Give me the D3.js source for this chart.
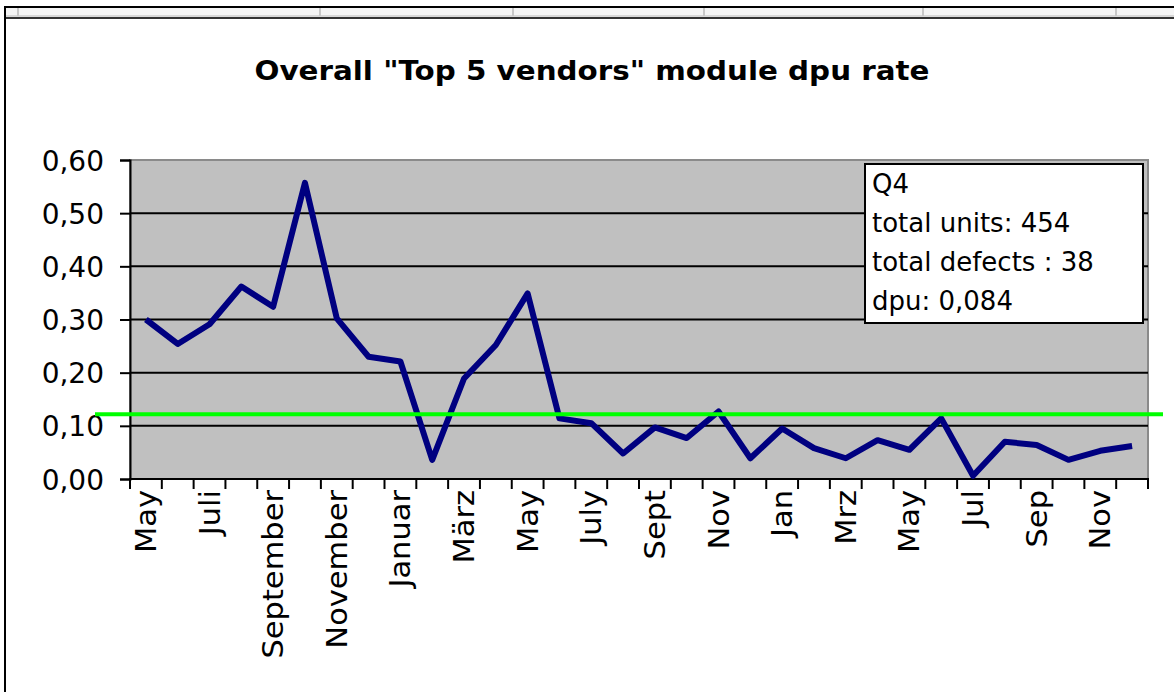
<!DOCTYPE html>
<html>
<head>
<meta charset="utf-8">
<script src="https://cdn.jsdelivr.net/npm/d3@7"></script>
<style>
  html, body { margin: 0; padding: 0; background: #fff; }
  svg { display: block; }
  text { font-family: "DejaVu Sans", Verdana, sans-serif; fill: #000; }
</style>
</head>
<body>
<svg id="chart" width="1174" height="692"></svg>
<script>
// ---- data ----
const categories = [
  "May", "Juni", "Juli", "August", "September", "Oktober", "November", "Dezember",
  "Januar", "Februar", "März", "April", "May", "June", "July", "Aug",
  "Sept", "Oct", "Nov", "Dec", "Jan", "Feb", "Mrz", "Apr",
  "May", "Jun", "Jul", "Aug", "Sep", "Oct", "Nov", "Dec"
];
const dpuValues = [
  0.300, 0.254, 0.291, 0.362, 0.324, 0.557, 0.302, 0.230,
  0.221, 0.036, 0.189, 0.252, 0.349, 0.114, 0.105, 0.048,
  0.097, 0.077, 0.127, 0.039, 0.095, 0.058, 0.039, 0.073,
  0.055, 0.114, 0.006, 0.070, 0.064, 0.036, 0.053, 0.062
];
const yTickValues = [0, 0.1, 0.2, 0.3, 0.4, 0.5, 0.6];
const targetValue = 0.122;
const titleText = 'Overall "Top 5 vendors" module dpu rate';
const noteLines = ["Q4", "total units: 454", "total defects : 38", "dpu: 0,084"];
const sheetColumnEdges = [18, 320, 513, 704, 923, 1116];

// ---- layout ----
const svg = d3.select("#chart");
const plot = { left: 130, right: 1148, top: 160, bottom: 479 };

const locale = d3.formatLocale({ decimal: ",", thousands: ".", grouping: [3], currency: ["", "€"] });
const fmt = locale.format(".2f");

const idx = d3.range(categories.length);
const x = d3.scaleBand().domain(idx).range([plot.left, plot.right]).paddingInner(0).paddingOuter(0);
const y = d3.scaleLinear().domain([0, 0.6]).range([plot.bottom, plot.top]);
const cx = i => x(i) + x.bandwidth() / 2;

// spreadsheet header strip
svg.append("rect").attr("x", 0).attr("y", 0).attr("width", 1174).attr("height", 692).attr("fill", "#fff");
svg.append("rect").attr("x", 5).attr("y", 8).attr("width", 1169).attr("height", 10).attr("fill", "#f4f4f4");
svg.append("line").attr("x1", 5).attr("x2", 1174).attr("y1", 7).attr("y2", 7).attr("stroke", "#000").attr("stroke-width", 2);
svg.append("line").attr("x1", 5).attr("x2", 1174).attr("y1", 18).attr("y2", 18).attr("stroke", "#333").attr("stroke-width", 2);
svg.append("line").attr("x1", 5).attr("x2", 1174).attr("y1", 16).attr("y2", 16).attr("stroke", "#bbb").attr("stroke-width", 1);
svg.selectAll("line.sep").data(sheetColumnEdges).join("line").attr("class", "sep")
  .attr("x1", d => d).attr("x2", d => d).attr("y1", 8).attr("y2", 16)
  .attr("stroke", "#c8c8c8").attr("stroke-width", 2);
svg.append("line").attr("x1", 5).attr("x2", 5).attr("y1", 6).attr("y2", 692).attr("stroke", "#000").attr("stroke-width", 2);

// title
svg.append("text").attr("x", 592).attr("y", 80).attr("text-anchor", "middle")
  .style("font-weight", "bold").style("font-size", "26px")
  .attr("textLength", 675).attr("lengthAdjust", "spacingAndGlyphs")
  .text(titleText);

// plot background
svg.append("rect").attr("x", plot.left).attr("y", plot.top)
  .attr("width", plot.right - plot.left).attr("height", plot.bottom - plot.top)
  .attr("fill", "#c0c0c0").attr("stroke", "#8a8a8a").attr("stroke-width", 2);

// gridlines
svg.append("g").selectAll("line").data(yTickValues.filter(v => v > 0 && v < 0.6)).join("line")
  .attr("x1", plot.left).attr("x2", plot.right)
  .attr("y1", d => y(d)).attr("y2", d => y(d))
  .attr("stroke", "#000").attr("stroke-width", 2);

// y axis
const yAxis = d3.axisLeft(y).tickValues(yTickValues).tickFormat(fmt).tickSize(10).tickPadding(16);
const gy = svg.append("g").attr("transform", `translate(${plot.left},0)`).call(yAxis);
gy.select(".domain").attr("stroke", "#000").attr("stroke-width", 2);
gy.selectAll(".tick line").attr("stroke", "#000").attr("stroke-width", 2);
gy.selectAll(".tick text").style("font-size", "28px").style("font-family", '"DejaVu Sans", sans-serif').attr("dy", "0.36em");

// x axis: ticks between categories
const boundaries = idx.map(i => x(i)).concat([plot.right]);
svg.append("line").attr("x1", plot.left - 1).attr("x2", plot.right + 1)
  .attr("y1", plot.bottom).attr("y2", plot.bottom).attr("stroke", "#000").attr("stroke-width", 2);
svg.append("g").selectAll("line").data(boundaries).join("line")
  .attr("x1", d => d).attr("x2", d => d).attr("y1", plot.bottom).attr("y2", plot.bottom + 10)
  .attr("stroke", "#000").attr("stroke-width", 2);
svg.append("g").selectAll("text").data(idx.filter(i => i % 2 === 0))
  .join("text")
  .attr("transform", i => `translate(${cx(i)},${plot.bottom + 11}) rotate(-90) scale(1.09,1)`)
  .attr("text-anchor", "end").attr("dy", "0.36em")
  .style("font-size", "28px")
  .text(i => categories[i]);

// data line
const line = d3.line()
  .x((d, i) => cx(i))
  .y(d => y(d));
svg.append("path").datum(dpuValues).attr("d", line)
  .attr("fill", "none").attr("stroke", "#000080").attr("stroke-width", 6)
  .attr("stroke-linejoin", "round").attr("stroke-linecap", "butt");

// target line (drawn shape extending beyond plot)
svg.append("line").attr("x1", 95).attr("x2", 1163)
  .attr("y1", y(targetValue)).attr("y2", y(targetValue))
  .attr("stroke", "#00ff00").attr("stroke-width", 4);

// note box
const box = { x: 865, y: 164, w: 278, h: 159 };
svg.append("rect").attr("x", box.x).attr("y", box.y).attr("width", box.w).attr("height", box.h)
  .attr("fill", "#fff").attr("stroke", "#000").attr("stroke-width", 2);
svg.append("g").selectAll("text").data(noteLines).join("text")
  .attr("x", box.x + 7).attr("y", (d, i) => box.y + 29 + i * 39)
  .style("font-size", "26px")
  .text(d => d);
</script>
</body>
</html>
